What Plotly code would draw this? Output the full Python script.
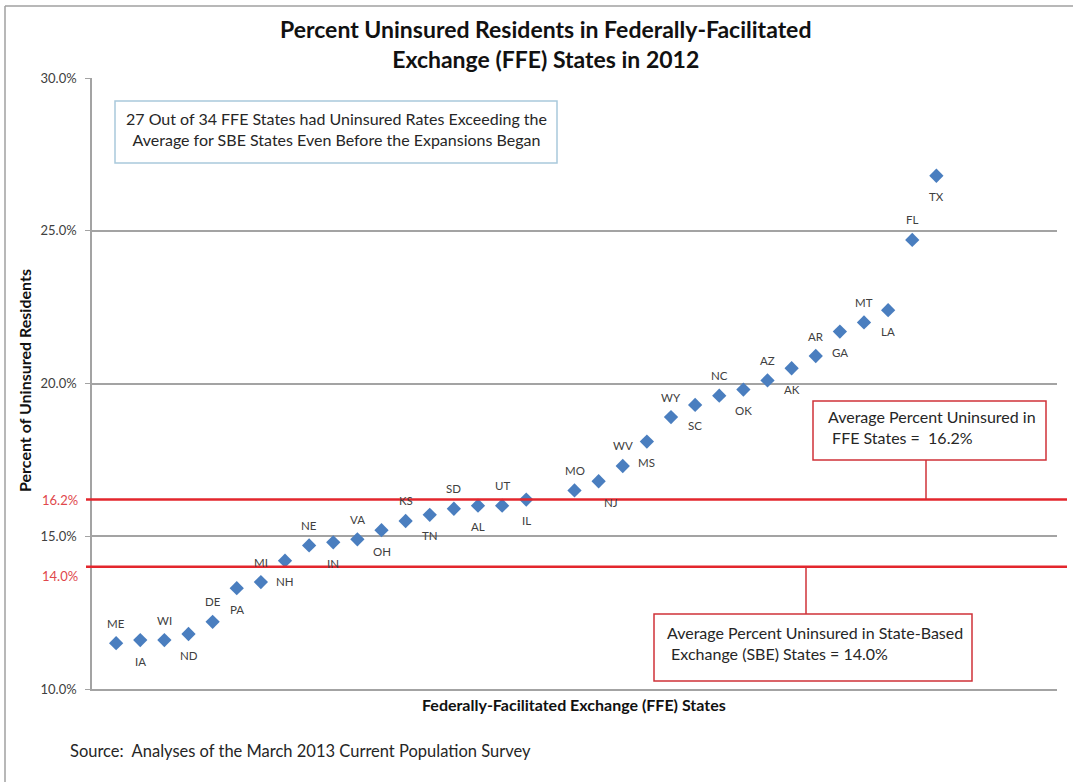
import plotly.graph_objects as go

# 2012 uninsured rates for the 34 FFE states, sorted ascending
states = ["ME", "IA", "WI", "ND", "DE", "PA", "MI", "NH", "NE", "IN", "VA", "OH",
          "KS", "TN", "SD", "AL", "UT", "IL", "MO", "NJ", "WV", "MS", "WY", "SC",
          "NC", "OK", "AZ", "AK", "AR", "GA", "MT", "LA", "FL", "TX"]
uninsured = [11.5, 11.6, 11.6, 11.8, 12.2, 13.3, 13.5, 14.2, 14.7, 14.8, 14.9, 15.2,
             15.5, 15.7, 15.9, 16.0, 16.0, 16.2, 16.5, 16.8, 17.3, 18.1, 18.9, 19.3,
             19.6, 19.8, 20.1, 20.5, 20.9, 21.7, 22.0, 22.4, 24.7, 26.8]
ffe_average = 16.2
sbe_average = 14.0
y_ticks = [10, 15, 20, 25, 30]

W, H = 1073, 782
L, R, T, B = 92, 16, 78, 93
PW, PH = W - L - R, H - T - B


def px(xp):
    return (xp - L) / PW


def py(yp):
    return (H - B - yp) / PH


# one empty slot separates IL and MO on the category axis
GAP_AFTER = 18
slots = [i + 1 if i < GAP_AFTER else i + 2 for i in range(len(states))]

FONT = "Lato, 'Open Sans', sans-serif"
BLUE = "#4a7ebf"
RED = "#e3262d"
BOX_RED = "#cf3239"
GRID = "#a3a3a3"
TXT = "#262626"

fig = go.Figure()
fig.add_trace(go.Scatter(
    x=slots, y=uninsured, mode="markers",
    marker=dict(symbol="diamond", size=11, color=BLUE),
    hoverinfo="text", text=states, showlegend=False,
))

annotations = []
shapes = []


def note(x, y, text, font, xanchor="center", align="center", **kw):
    annotations.append(dict(x=x, y=y, xref=kw.pop("xref", "paper"),
                            yref=kw.pop("yref", "paper"), text=text,
                            showarrow=False, xanchor=xanchor, yanchor="middle",
                            align=align, font=font, **kw))


# state labels alternate above / below their markers
for i, (s, xv, yv) in enumerate(zip(states, slots, uninsured)):
    above = i % 2 == 0
    note(xv, yv, s, dict(family=FONT, size=11.5, color="#404040"),
         xref="x", yref="y", yshift=20 if above else -21,
         xshift=12 if s == "NJ" else 0)

# average reference lines
for v in (ffe_average, sbe_average):
    shapes.append(dict(type="line", xref="paper", yref="y",
                       x0=px(86), x1=px(1067), y0=v, y1=v,
                       line=dict(color=RED, width=2.5), layer="above"))

red_font = dict(family=FONT, size=13, color="#e0474c")
note(px(80), ffe_average, f"{ffe_average:.1f}%", red_font, xanchor="right", yref="y")
note(px(80), sbe_average, f"{sbe_average:.1f}%", red_font, xanchor="right",
     yref="y", yshift=-9)

# callout boxes
shapes += [
    dict(type="rect", xref="paper", yref="paper",
         x0=px(115), x1=px(557), y0=py(101), y1=py(163),
         line=dict(color="#a9c9dc", width=1.5), fillcolor="white"),
    dict(type="rect", xref="paper", yref="paper",
         x0=px(813), x1=px(1046), y0=py(401), y1=py(460),
         line=dict(color=BOX_RED, width=1.5), fillcolor="white"),
    dict(type="line", xref="paper", yref="paper",
         x0=px(926), x1=px(926), y0=py(460), y1=(ffe_average - 10) / 20,
         line=dict(color=BOX_RED, width=1.5)),
    dict(type="rect", xref="paper", yref="paper",
         x0=px(654), x1=px(972), y0=py(614), y1=py(681),
         line=dict(color=BOX_RED, width=1.5), fillcolor="white"),
    dict(type="line", xref="paper", yref="paper",
         x0=px(806), x1=px(806), y0=(sbe_average - 10) / 20, y1=py(614),
         line=dict(color=BOX_RED, width=1.5)),
    # chart frame
    dict(type="line", xref="paper", yref="paper",
         x0=px(5), x1=px(1080), y0=py(6), y1=py(6),
         line=dict(color="#a0a0a0", width=1.5)),
    dict(type="line", xref="paper", yref="paper",
         x0=px(5), x1=px(5), y0=py(6), y1=py(790),
         line=dict(color="#a0a0a0", width=1.5)),
]

box_font = dict(family=FONT, size=16, color=TXT)
note(px(336), py(129),
     "27 Out of 34 FFE States had Uninsured Rates Exceeding the<br>"
     "Average for SBE States Even Before the Expansions Began", box_font)
note(px(826), py(427), "Average Percent Uninsured in<br> FFE States =  16.2%",
     box_font, xanchor="left", align="left")
note(px(665), py(643),
     "Average Percent Uninsured in State-Based<br> Exchange (SBE) States = 14.0%",
     box_font, xanchor="left", align="left")

# titles and source
note(px(545), py(44),
     "<b>Percent Uninsured Residents in Federally-Facilitated<br>"
     "Exchange (FFE) States in 2012</b>",
     dict(family=FONT, size=23, color="#111111"))
note(px(24), py(381), "<b>Percent of Uninsured Residents</b>",
     dict(family=FONT, size=16, color="#111111"), textangle=-90)
note(px(574), py(704), "<b>Federally-Facilitated Exchange (FFE) States</b>",
     dict(family=FONT, size=16, color="#111111"))
note(px(68), py(751),
     "Source:  Analyses of the March 2013 Current Population Survey",
     dict(family=FONT, size=16.5, color=TXT), xanchor="left", align="left")

fig.update_layout(
    width=W, height=H,
    margin=dict(l=L, r=R, t=T, b=B, pad=0),
    paper_bgcolor="white", plot_bgcolor="white",
    xaxis=dict(range=[0, 40], showgrid=False, zeroline=False,
               showline=True, linecolor=GRID, linewidth=1.5,
               showticklabels=False, ticks=""),
    yaxis=dict(range=[10, 30], tickvals=y_ticks,
               ticktext=[f"{v:.1f}%" for v in y_ticks],
               showgrid=True, gridcolor=GRID, gridwidth=1.5, zeroline=False,
               showline=True, linecolor=GRID, linewidth=1.5,
               ticks="outside", ticklen=5, tickcolor=GRID,
               ticklabelstandoff=6,
               tickfont=dict(family=FONT, size=13, color="#404040")),
    shapes=shapes,
    annotations=annotations,
)

fig.write_html("out.html")
